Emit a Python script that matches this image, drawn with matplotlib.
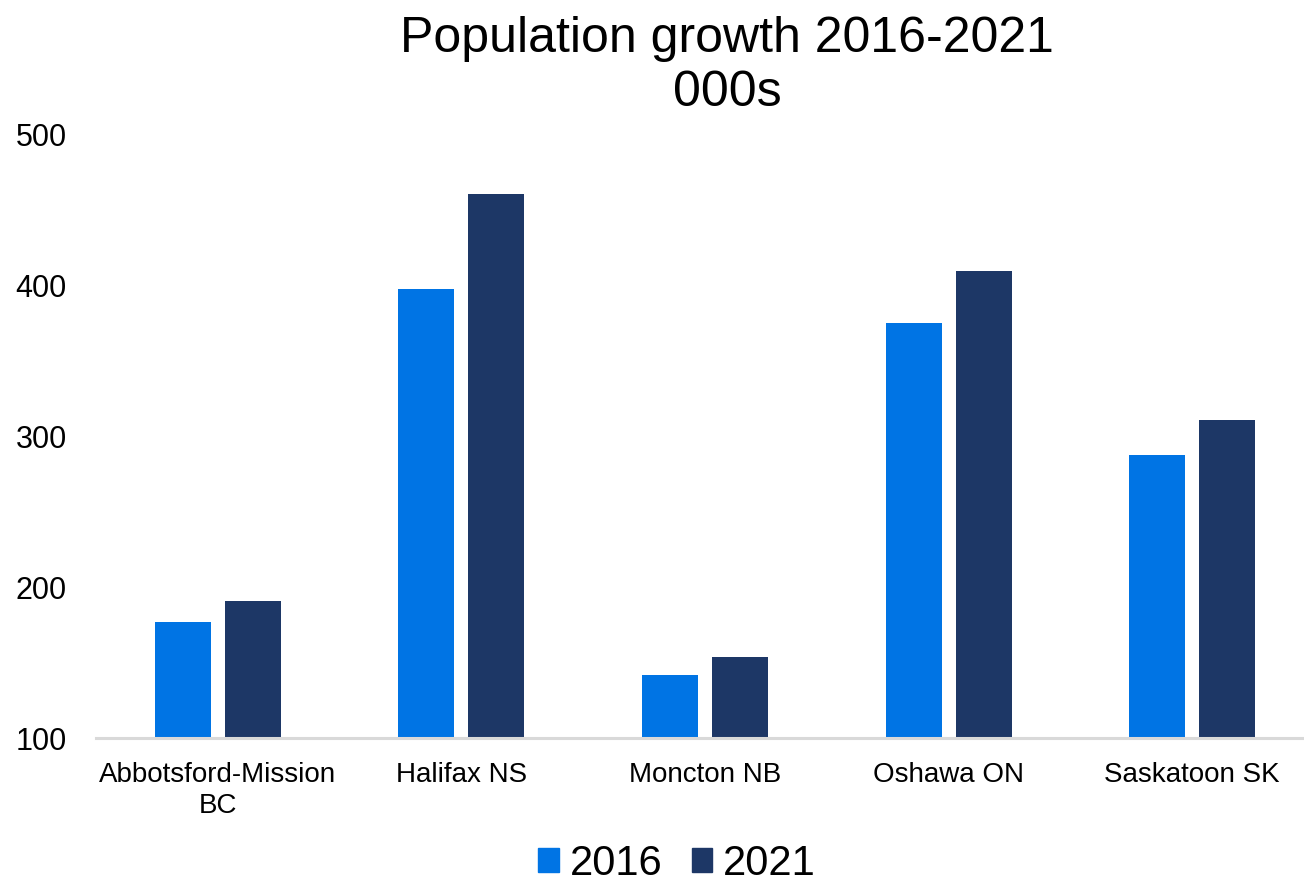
import numpy as np
import matplotlib.pyplot as plt
from matplotlib.patches import Rectangle

plt.rcParams['font.family'] = ['Liberation Sans', 'DejaVu Sans']

# Census metropolitan areas, population in thousands
cities = ["Abbotsford-Mission\nBC", "Halifax NS", "Moncton NB", "Oshawa ON", "Saskatoon SK"]
pop_2016 = [177, 398, 142, 375, 288]
pop_2021 = [191, 461, 154, 410, 311]
yticks = [100, 200, 300, 400, 500]

c2016 = "#0074E4"
c2021 = "#1D3766"

fig = plt.figure(figsize=(13.04, 8.84), dpi=100)
ax = fig.add_axes([96 / 1304, 1 - 738 / 884, 1218 / 1304, 603 / 884])

x = np.arange(len(cities))
w = 0.23
off = 0.144
ax.bar(x - off, pop_2016, width=w, color=c2016, bottom=0, label="2016")
ax.bar(x + off, pop_2021, width=w, color=c2021, bottom=0, label="2021")

ax.set_xlim(-0.5, len(cities) - 0.5)
ax.set_ylim(100, 500)
ax.set_yticks(yticks)
ax.set_yticklabels([str(t) for t in yticks], fontsize=22)
ax.set_xticks(x)
ax.set_xticklabels(cities, fontsize=20, linespacing=1.25)
ax.tick_params(axis='y', length=0, pad=21)
ax.tick_params(axis='x', length=0, pad=17)

for s in ['top', 'right', 'left']:
    ax.spines[s].set_visible(False)
ax.spines['bottom'].set_color('#D9D9D9')
ax.spines['bottom'].set_linewidth(2.2)

fig.text(727 / 1304, 1 - 66 / 884, "Population growth 2016-2021\n000s",
         ha='center', va='center', fontsize=36, linespacing=1.25)

handles = [Rectangle((0, 0), 1, 1, color=c2016), Rectangle((0, 0), 1, 1, color=c2021)]
fig.legend(handles, ["2016", "2021"], loc='center', bbox_to_anchor=(677 / 1304, 1 - 864 / 884),
           ncol=2, frameon=False, fontsize=30, handlelength=0.5, handleheight=0.5,
           handletextpad=0.25, columnspacing=0.7, borderpad=0)

fig.savefig("out.png", dpi=100)
